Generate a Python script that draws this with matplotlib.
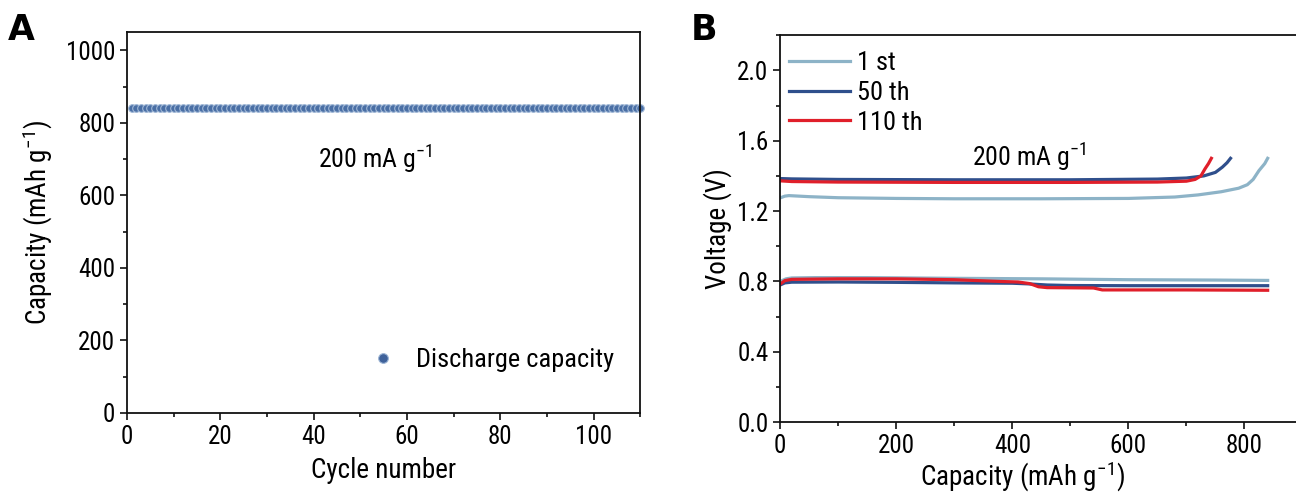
import matplotlib
matplotlib.use("Agg")
import matplotlib.pyplot as plt
from matplotlib.ticker import MultipleLocator, FormatStrFormatter
from matplotlib.lines import Line2D

plt.rcParams["font.family"] = ["Roboto Condensed", "Liberation Sans", "DejaVu Sans"]
plt.rcParams["mathtext.fontset"] = "custom"
plt.rcParams["mathtext.rm"] = "Roboto Condensed"

# ---- panel A: cycling ----
cycles = list(range(1, 111))
discharge_cap = [
    842, 841, 841, 842, 841, 840, 841, 841, 842, 841,
    841, 840, 841, 841, 841, 840, 841, 842, 841, 841,
    840, 841, 841, 841, 840, 841, 841, 840, 841, 841,
    841, 840, 841, 841, 840, 841, 841, 841, 840, 841,
    841, 840, 841, 841, 840, 841, 841, 840, 841, 841,
    840, 841, 841, 840, 841, 841, 840, 841, 840, 841,
    841, 840, 841, 840, 841, 841, 840, 841, 840, 841,
    840, 841, 841, 840, 841, 840, 841, 840, 841, 840,
    841, 840, 841, 840, 840, 841, 840, 841, 840, 840,
    841, 840, 840, 841, 840, 840, 841, 840, 840, 841,
    840, 840, 841, 840, 840, 841, 840, 840, 840, 840,
]

# ---- panel B: voltage profiles ----
c1_dis_x = [0, 10, 20, 60, 150, 300, 450, 600, 750, 840]
c1_dis_v = [0.800, 0.815, 0.820, 0.822, 0.822, 0.818, 0.815, 0.810, 0.808, 0.806]
c1_chg_x = [0, 8, 15, 50, 100, 200, 300, 450, 600, 680, 720, 760, 790, 805, 815, 825, 835, 840]
c1_chg_v = [1.275, 1.285, 1.288, 1.282, 1.276, 1.272, 1.270, 1.270, 1.272, 1.280, 1.292, 1.310, 1.330, 1.350, 1.380, 1.430, 1.470, 1.500]

c50_dis_x = [0, 8, 20, 100, 200, 300, 400, 430, 460, 500, 600, 700, 840]
c50_dis_v = [0.780, 0.792, 0.796, 0.797, 0.795, 0.792, 0.790, 0.786, 0.780, 0.777, 0.776, 0.776, 0.776]
c50_chg_x = [0, 20, 100, 300, 500, 650, 700, 730, 750, 762, 770, 776]
c50_chg_v = [1.385, 1.383, 1.380, 1.378, 1.378, 1.382, 1.388, 1.400, 1.420, 1.450, 1.475, 1.500]

c110_dis_x = [0, 8, 20, 100, 200, 300, 380, 410, 430, 445, 460, 540, 555, 600, 700, 840]
c110_dis_v = [0.785, 0.805, 0.812, 0.815, 0.815, 0.810, 0.800, 0.797, 0.788, 0.770, 0.765, 0.763, 0.752, 0.752, 0.752, 0.750]
c110_chg_x = [0, 20, 100, 300, 500, 650, 700, 715, 725, 732, 738, 743]
c110_chg_v = [1.372, 1.368, 1.365, 1.363, 1.363, 1.365, 1.370, 1.380, 1.400, 1.440, 1.470, 1.500]

col_1st = "#8db3c7"
col_50 = "#2f4f8c"
col_110 = "#e01f2a"

FS_TICK = 18
FS_LAB = 19.5
FS_TXT = 19

fig = plt.figure(figsize=(12.96, 4.95), dpi=100)

def style(ax):
    ax.tick_params(which="both", direction="out", top=False, right=False,
                   labelsize=FS_TICK, width=1.2, color="#111")
    ax.tick_params(which="major", length=5)
    ax.tick_params(which="minor", length=3)
    for s in ax.spines.values():
        s.set_linewidth(1.3)
        s.set_color("#111")

# === A ===
axA = fig.add_axes([0.098, 0.166, 0.396, 0.769])
axA.plot(cycles, discharge_cap, "o", ms=5.5, mfc="#4a6fa5", mec="#9fb7d6",
         mew=0.8, clip_on=False)
axA.set_xlim(0, 110)
axA.set_ylim(0, 1050)
axA.xaxis.set_major_locator(MultipleLocator(20))
axA.xaxis.set_minor_locator(MultipleLocator(10))
axA.yaxis.set_major_locator(MultipleLocator(200))
axA.yaxis.set_minor_locator(MultipleLocator(100))
style(axA)
axA.set_xlabel("Cycle number", fontsize=FS_LAB, labelpad=6)
axA.set_ylabel("Capacity (mAh g$^{-1}$)", fontsize=FS_LAB, labelpad=8)
axA.text(0.372, 0.669, "200 mA g$^{-1}$", transform=axA.transAxes,
         fontsize=18.5, va="center")
h = Line2D([], [], ls="none", marker="o", ms=7, mfc="#3f629b", mec="#9fb7d6", mew=0.8)
axA.legend([h], ["Discharge capacity"], loc="center left", frameon=False,
           fontsize=FS_TXT, handlelength=1.0, handletextpad=0.76, borderaxespad=0,
           bbox_to_anchor=(0.452, 0.138))
fig.text(0.006, 0.92, "A", fontsize=25, fontweight="bold", family="DejaVu Sans")

# === B ===
axB = fig.add_axes([0.602, 0.147, 0.403, 0.782])
axB.plot(c1_dis_x, c1_dis_v, color=col_1st, lw=2.3)
axB.plot(c1_chg_x, c1_chg_v, color=col_1st, lw=2.3, label="1 st")
axB.plot(c50_dis_x, c50_dis_v, color=col_50, lw=2.3)
axB.plot(c50_chg_x, c50_chg_v, color=col_50, lw=2.3, label="50 th")
axB.plot(c110_dis_x, c110_dis_v, color=col_110, lw=2.3)
axB.plot(c110_chg_x, c110_chg_v, color=col_110, lw=2.3, label="110 th")
axB.set_xlim(0, 900)
axB.set_ylim(0, 2.2)
axB.xaxis.set_major_locator(MultipleLocator(200))
axB.xaxis.set_minor_locator(MultipleLocator(100))
axB.yaxis.set_major_locator(MultipleLocator(0.4))
axB.yaxis.set_minor_locator(MultipleLocator(0.2))
axB.yaxis.set_major_formatter(FormatStrFormatter("%.1f"))
style(axB)
axB.set_xlabel("Capacity (mAh g$^{-1}$)", fontsize=FS_LAB)
axB.xaxis.set_label_coords(0.464, -0.097)
axB.set_ylabel("Voltage (V)", fontsize=FS_LAB, labelpad=4)
axB.text(0.368, 0.685, "200 mA g$^{-1}$", transform=axB.transAxes,
         fontsize=18.5, va="center")
axB.legend(loc="upper left", frameon=False, fontsize=FS_TXT, handlelength=2.3,
           handletextpad=0.27, labelspacing=0.22, borderaxespad=0.2,
           bbox_to_anchor=(-0.013, 1.0))
fig.text(0.533, 0.92, "B", fontsize=25, fontweight="bold", family="DejaVu Sans")

fig.savefig("out.png", dpi=100, facecolor="white")
